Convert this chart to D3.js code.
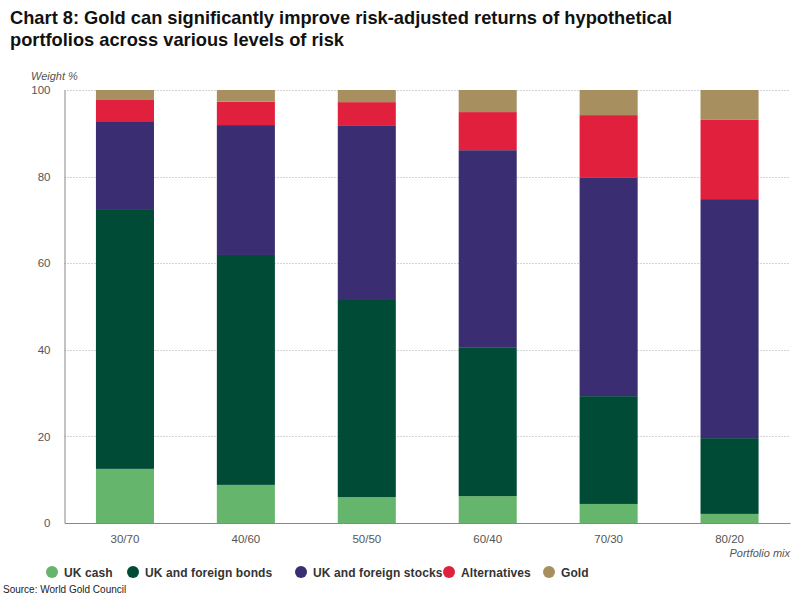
<!DOCTYPE html>
<html>
<head>
<meta charset="utf-8">
<script src="https://cdn.jsdelivr.net/npm/d3@7"></script>
<style>
  body { margin: 0; background: #fff; }
  svg { display: block; font-family: "Liberation Sans", Arial, sans-serif; }
</style>
</head>
<body>
<svg id="chart" width="800" height="600"></svg>
<script>
const categories = ["30/70", "40/60", "50/50", "60/40", "70/30", "80/20"];
const seriesNames = ["UK cash", "UK and foreign bonds", "UK and foreign stocks", "Alternatives", "Gold"];
const ukCash        = [12.5, 8.8, 6.0, 6.2, 4.4, 2.1];
const ukForeignBonds  = [60.0, 53.1, 45.5, 34.4, 24.9, 17.5];
const ukForeignStocks = [20.3, 30.0, 40.2, 45.5, 50.4, 55.2];
const alternatives  = [4.9, 5.4, 5.5, 8.8, 14.5, 18.3];
const gold          = [2.3, 2.7, 2.8, 5.1, 5.8, 6.9];
const yTicks = [0, 20, 40, 60, 80, 100];
const colors = ["#65b56c", "#004b36", "#3a2d71", "#e0203c", "#a88f60"];

const seriesValues = [ukCash, ukForeignBonds, ukForeignStocks, alternatives, gold];
const table = categories.map((c, i) => {
  const row = { cat: c };
  seriesNames.forEach((s, j) => row[s] = seriesValues[j][i]);
  return row;
});

const svg = d3.select("#chart");
const margin = { left: 64.5, right: 10, top: 90, bottom: 77 };
const W = 800, H = 600;

const x = d3.scaleBand().domain(categories).range([margin.left, W - margin.right]).paddingInner(0.52).paddingOuter(0.26);
const y = d3.scaleLinear().domain([0, 100]).range([H - margin.bottom, margin.top]);

// Title
const title = svg.append("g").attr("font-weight", "bold").attr("font-size", 19).attr("fill", "#111")
  .attr("font-family", "'Liberation Sans Narrow', 'Liberation Sans', Arial, sans-serif");
title.append("text").attr("x", 10).attr("y", 24)
  .attr("textLength", 662).attr("lengthAdjust", "spacingAndGlyphs")
  .text("Chart 8: Gold can significantly improve risk-adjusted returns of hypothetical");
title.append("text").attr("x", 10).attr("y", 46)
  .attr("textLength", 334).attr("lengthAdjust", "spacingAndGlyphs")
  .text("portfolios across various levels of risk");

// Gridlines
svg.append("g").selectAll("line").data(yTicks.filter(d => d > 0)).join("line")
  .attr("x1", margin.left).attr("x2", W - margin.right)
  .attr("y1", d => Math.round(y(d)) + 0.5).attr("y2", d => Math.round(y(d)) + 0.5)
  .attr("stroke", "#aaa").attr("stroke-width", 1).attr("stroke-dasharray", "1,2");

// Bars
const stack = d3.stack().keys(seriesNames)(table);
svg.append("g").selectAll("g").data(stack).join("g")
  .attr("fill", (d, i) => colors[i])
  .selectAll("rect").data(d => d).join("rect")
  .attr("x", d => x(d.data.cat))
  .attr("width", x.bandwidth())
  .attr("y", d => y(d[1]))
  .attr("height", d => y(d[0]) - y(d[1]));

// Y axis
const yAxis = d3.axisLeft(y).tickValues(yTicks).tickSize(0).tickPadding(14);
const gy = svg.append("g").attr("transform", `translate(${margin.left},0)`).call(yAxis);
gy.select(".domain").attr("stroke", "#888");
gy.selectAll("text").attr("font-size", 11.5).attr("fill", "#555")
  .attr("font-family", "'Liberation Sans', Arial, sans-serif");

// X axis
const xAxis = d3.axisBottom(x).tickSize(0).tickPadding(12);
const gx = svg.append("g").attr("transform", `translate(0,${H - margin.bottom})`).call(xAxis);
gx.select(".domain").attr("stroke", "#888");
gx.selectAll("text").attr("font-size", 11.5).attr("fill", "#555")
  .attr("font-family", "'Liberation Sans', Arial, sans-serif");

// Axis titles
svg.append("text").attr("x", 31).attr("y", 80).attr("font-size", 11).attr("font-style", "italic")
  .attr("fill", "#555").text("Weight %");
svg.append("text").attr("x", W - margin.right).attr("y", 557).attr("text-anchor", "end")
  .attr("font-size", 11).attr("font-style", "italic").attr("fill", "#555").text("Portfolio mix");

// Legend
const legendX = [52, 133, 301, 449, 549];
const lg = svg.append("g").selectAll("g").data(seriesNames).join("g")
  .attr("transform", (d, i) => `translate(${legendX[i]},572)`);
lg.append("circle").attr("r", 6).attr("fill", (d, i) => colors[i]);
lg.append("text").attr("x", 12).attr("y", 4.5).attr("font-size", 12).attr("font-weight", "bold")
  .attr("fill", "#333").attr("letter-spacing", 0.1).text(d => d);

// Source
svg.append("text").attr("x", 3).attr("y", 593).attr("font-size", 10).attr("fill", "#222")
  .text("Source: World Gold Council");
</script>
</body>
</html>
